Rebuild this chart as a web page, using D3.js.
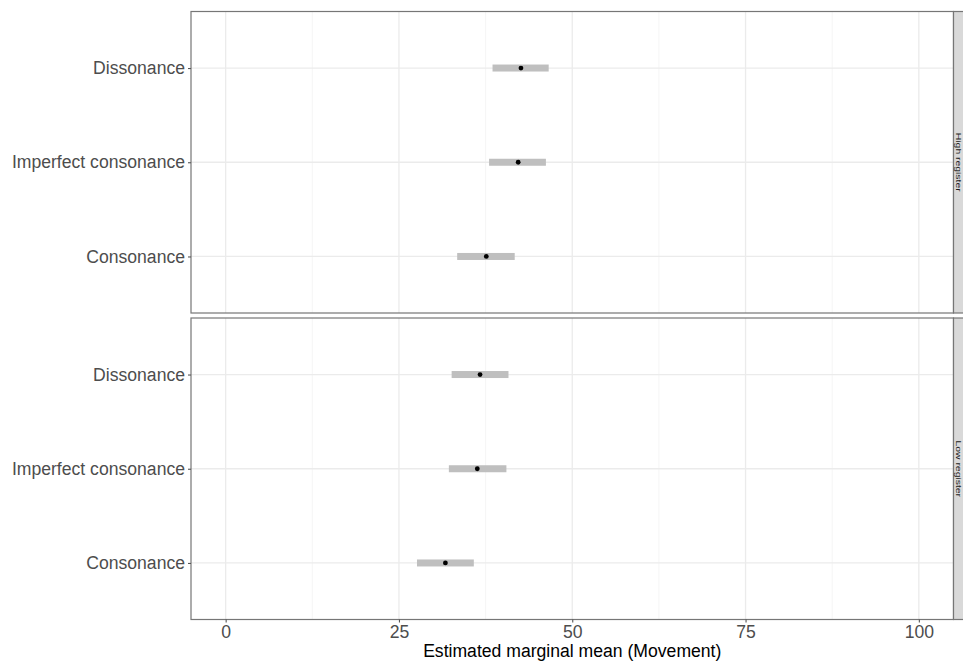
<!DOCTYPE html>
<html>
<head>
<meta charset="utf-8">
<script src="https://cdn.jsdelivr.net/npm/d3@7"></script>
<style>
  html, body { margin: 0; padding: 0; background: #ffffff; }
  svg { display: block; }
  text { font-family: "Liberation Sans", Arial, Helvetica, sans-serif; }
</style>
</head>
<body>
<svg id="chart" width="963" height="662"></svg>
<script>
// Interval types (bottom to top within each facet)
const categories = ["Consonance", "Imperfect consonance", "Dissonance"];
// Facet rows
const registers = ["High register", "Low register"];
// Estimated marginal means with lower / upper confidence limits
const highMean  = [37.6, 42.2, 42.6];
const highLower = [33.4, 38.0, 38.5];
const highUpper = [41.7, 46.2, 46.6];
const lowMean   = [31.7, 36.3, 36.7];
const lowLower  = [27.6, 32.2, 32.6];
const lowUpper  = [35.8, 40.5, 40.8];
// X axis ticks
const xTicks = [0, 25, 50, 75, 100];
const xMinor = [12.5, 37.5, 62.5, 87.5];
const xTitle = "Estimated marginal mean (Movement)";

const facetData = [
  { name: registers[0], mean: highMean, lower: highLower, upper: highUpper },
  { name: registers[1], mean: lowMean,  lower: lowLower,  upper: lowUpper }
];

const svg = d3.select("#chart");

const left = 191, right = 953.5;
const panels = [
  { top: 11.5, bottom: 313 },
  { top: 318,  bottom: 619.5 }
];
const stripW = 19;
const fontSize = 17.6;

const x = d3.scaleLinear().domain([-5, 105]).range([left, right]);

facetData.forEach((f, i) => {
  const p = panels[i];
  const y = d3.scalePoint()
    .domain(categories.slice().reverse())
    .range([p.top, p.bottom])
    .padding(0.6);

  const g = svg.append("g");

  // panel background
  g.append("rect")
    .attr("x", left).attr("y", p.top)
    .attr("width", right - left).attr("height", p.bottom - p.top)
    .attr("fill", "#ffffff");

  // minor vertical grid
  g.selectAll(".minor").data(xMinor).enter().append("line")
    .attr("x1", d => x(d)).attr("x2", d => x(d))
    .attr("y1", p.top).attr("y2", p.bottom)
    .attr("stroke", "#f3f3f3").attr("stroke-width", 0.8);

  // major vertical grid
  g.selectAll(".major").data(xTicks).enter().append("line")
    .attr("x1", d => x(d)).attr("x2", d => x(d))
    .attr("y1", p.top).attr("y2", p.bottom)
    .attr("stroke", "#ebebeb").attr("stroke-width", 1.3);

  // horizontal grid at categories
  g.selectAll(".hgrid").data(categories).enter().append("line")
    .attr("x1", left).attr("x2", right)
    .attr("y1", d => y(d)).attr("y2", d => y(d))
    .attr("stroke", "#ebebeb").attr("stroke-width", 1.3);

  // confidence interval bars
  const rows = categories.map((c, k) => ({
    cat: c, mean: f.mean[k], lower: f.lower[k], upper: f.upper[k]
  }));
  g.selectAll(".ci").data(rows).enter().append("rect")
    .attr("x", d => x(d.lower))
    .attr("width", d => x(d.upper) - x(d.lower))
    .attr("y", d => y(d.cat) - 3.5)
    .attr("height", 7)
    .attr("fill", "#bfbfbf");

  // mean points
  g.selectAll(".pt").data(rows).enter().append("circle")
    .attr("cx", d => x(d.mean))
    .attr("cy", d => y(d.cat))
    .attr("r", 2.4)
    .attr("fill", "#000000");

  // panel border
  g.append("rect")
    .attr("x", left).attr("y", p.top)
    .attr("width", right - left).attr("height", p.bottom - p.top)
    .attr("fill", "none")
    .attr("stroke", "#767676").attr("stroke-width", 1.2);

  // y axis (category labels)
  const yAxis = d3.axisLeft(y).tickSize(3).tickPadding(3);
  const ya = svg.append("g")
    .attr("transform", `translate(${left},0)`)
    .call(yAxis);
  ya.select(".domain").remove();
  ya.selectAll(".tick line").attr("stroke", "#555555").attr("stroke-width", 1.1);
  ya.selectAll(".tick text")
    .attr("fill", "#4d4d4d")
    .style("font-size", fontSize + "px")
    .style("font-family", '"Liberation Sans", Arial, sans-serif');

  // strip on the right
  svg.append("rect")
    .attr("x", right).attr("y", p.top)
    .attr("width", stripW).attr("height", p.bottom - p.top)
    .attr("fill", "#d9d9d9")
    .attr("stroke", "#767676").attr("stroke-width", 1.2);
  svg.append("text")
    .attr("transform", `translate(958.4,${(p.top + p.bottom) / 2}) rotate(90) scale(1.3,1)`)
    .attr("text-anchor", "middle")
    .attr("dy", "0.35em")
    .attr("fill", "#1a1a1a")
    .style("font-size", "8px")
    .text(f.name);
});

// x axis on the bottom panel
const xAxis = d3.axisBottom(x).tickValues(xTicks).tickSize(3).tickPadding(3);
const xa = svg.append("g")
  .attr("transform", `translate(0,${panels[1].bottom})`)
  .call(xAxis);
xa.select(".domain").remove();
xa.selectAll(".tick line").attr("stroke", "#555555").attr("stroke-width", 1.1);
xa.selectAll(".tick text")
  .attr("fill", "#4d4d4d")
  .style("font-size", fontSize + "px")
  .style("font-family", '"Liberation Sans", Arial, sans-serif');

// x axis title
svg.append("text")
  .attr("x", (left + right) / 2)
  .attr("y", 657)
  .attr("text-anchor", "middle")
  .attr("fill", "#000000")
  .style("font-size", fontSize + "px")
  .text(xTitle);
</script>
</body>
</html>
